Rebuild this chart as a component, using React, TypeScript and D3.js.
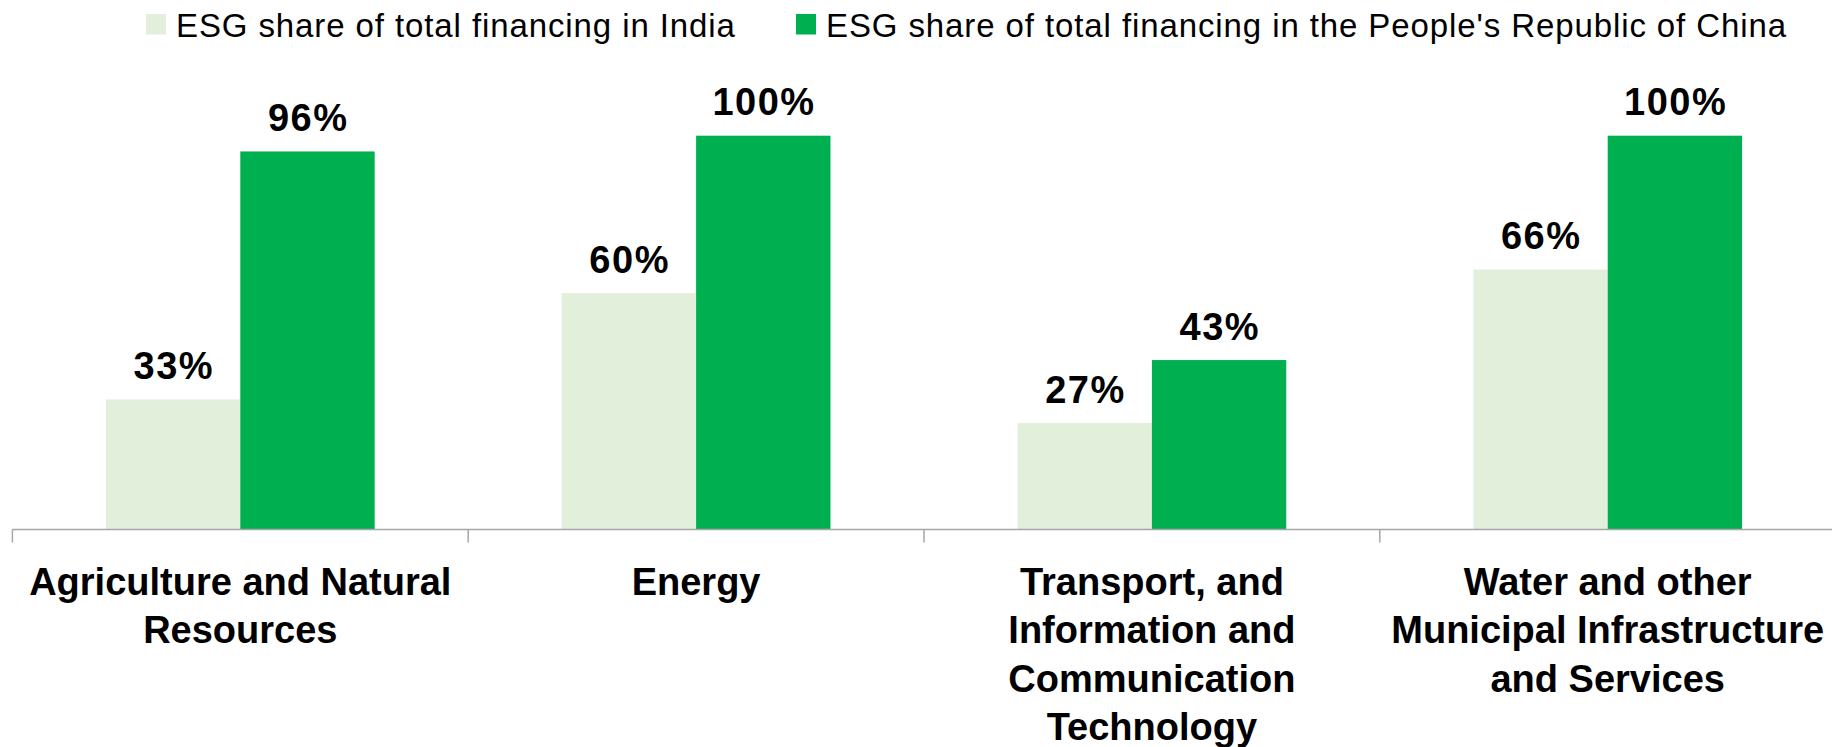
import React from "react";
import * as d3 from "d3";

const categories: string[] = [
  "Agriculture and Natural\nResources",
  "Energy",
  "Transport, and\nInformation and\nCommunication\nTechnology",
  "Water and other\nMunicipal Infrastructure\nand Services",
];
const seriesKeys: string[] = ["india", "china"];
const seriesNames: string[] = [
  "ESG share of total financing in India",
  "ESG share of total financing in the People's Republic of China",
];
const seriesColors: string[] = ["#E2EFDA", "#00B050"];
const indiaValues: number[] = [33, 60, 27, 66];
const chinaValues: number[] = [96, 100, 43, 100];
const seriesValues: number[][] = [indiaValues, chinaValues];

const W = 1832;
const H = 747;
const FONT = "'Liberation Sans', Arial, sans-serif";

export default function App() {
  const x0 = d3.scaleBand<string>().domain(categories).range([12.4, 1835.6]).paddingInner(0).paddingOuter(0);
  const x1 = d3
    .scaleBand<string>()
    .domain(seriesKeys)
    .range([0, x0.bandwidth()])
    .paddingInner(0)
    .paddingOuter(0.696);
  const y = d3.scaleLinear().domain([0, 100]).range([529.3, 135.7]);
  const baseY = 529.5;

  const tickXs = categories.map((c) => x0(c) as number);

  const legendItems = [
    { sx: 146, tx: 176 },
    { sx: 796, tx: 826 },
  ];

  return (
    <div style={{ position: "absolute", left: 0, top: 0 }}>
      <svg width={W} height={H} style={{ display: "block", background: "#fff" }}>
        {/* Legend */}
        {seriesNames.map((name, i) => (
          <g key={name}>
            <rect x={legendItems[i].sx} y={14} width={20} height={20.5} fill={seriesColors[i]} />
            <text
              x={legendItems[i].tx}
              y={36.5}
              fontFamily={FONT}
              fontSize={33}
              letterSpacing={0.9}
              fill="#000"
            >
              {name}
            </text>
          </g>
        ))}

        {/* Bars */}
        {categories.map((c, ci) => (
          <g key={c} transform={`translate(${x0(c)},0)`}>
            {seriesKeys.map((s, si) => {
              const v = seriesValues[si][ci];
              const bx = x1(s) as number;
              const bw = x1.bandwidth();
              return (
                <g key={s}>
                  <rect x={bx} y={y(v)} width={bw} height={y(0) - y(v)} fill={seriesColors[si]} />
                  <text
                    x={bx + bw / 2 + 0.75}
                    y={y(v) - 20.5}
                    textAnchor="middle"
                    fontFamily={FONT}
                    fontWeight="bold"
                    fontSize={38}
                    letterSpacing={1.5}
                    fill="#000"
                  >
                    {`${v}%`}
                  </text>
                </g>
              );
            })}
          </g>
        ))}

        {/* Axis */}
        <line x1={12.4} x2={W} y1={baseY} y2={baseY} stroke="#a6a6a6" strokeWidth={1.5} />
        {tickXs.map((tx, i) => (
          <line key={i} x1={tx} x2={tx} y1={baseY} y2={baseY + 13} stroke="#a6a6a6" strokeWidth={1.5} />
        ))}

        {/* Category labels */}
        {categories.map((c) => {
          const cx = (x0(c) as number) + x0.bandwidth() / 2;
          return (
            <text
              key={c}
              x={cx}
              y={594.5}
              textAnchor="middle"
              fontFamily={FONT}
              fontWeight="bold"
              fontSize={38}
              fill="#000"
            >
              {c.split("\n").map((line, li) => (
                <tspan key={li} x={cx} y={594.5 + li * 48.5}>
                  {line}
                </tspan>
              ))}
            </text>
          );
        })}
      </svg>
    </div>
  );
}
